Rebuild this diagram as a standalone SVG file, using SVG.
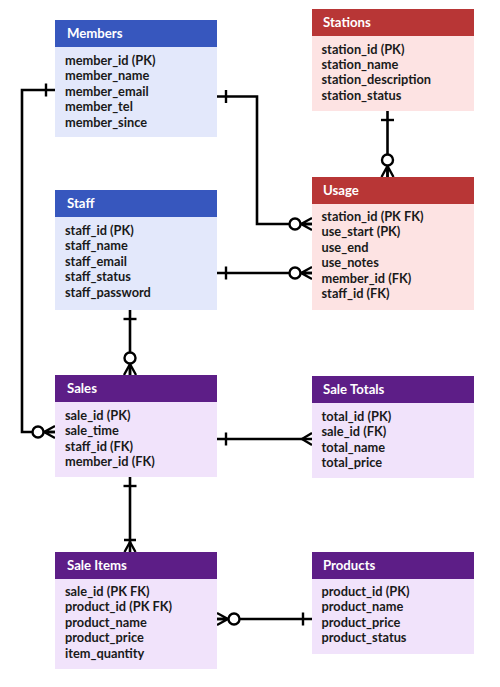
<svg xmlns="http://www.w3.org/2000/svg" width="500" height="687" viewBox="0 0 500 687">
<style>
.hd{font-family:Lato,"Liberation Sans",sans-serif;font-weight:bold;font-size:13.2px;fill:#ffffff}
.tx{font-family:Lato,"Liberation Sans",sans-serif;font-weight:bold;font-size:12.8px;fill:#1a1a1a}
.bh{fill:#3757be}.bb{fill:#e3e8fb}
.rh{fill:#b83636}.rb{fill:#fde3e3}
.ph{fill:#5d1e87}.pb{fill:#f1e3fb}
.cn{fill:none;stroke:#000;stroke-width:2.6}
.mk{fill:none;stroke:#000;stroke-width:2.4}
</style>
<defs>
<marker id="one" markerUnits="userSpaceOnUse" viewBox="-20 -10 22 20" refX="0" refY="0" markerWidth="22" markerHeight="20" orient="auto-start-reverse" overflow="visible">
<line class="mk" x1="-9" y1="-6.5" x2="-9" y2="6.5"/>
</marker>
<marker id="zm" markerUnits="userSpaceOnUse" viewBox="-30 -10 32 20" refX="0" refY="0" markerWidth="32" markerHeight="20" orient="auto-start-reverse" overflow="visible">
<path class="mk" d="M-11,0 L0,-6 M-11,0 L0,0 M-11,0 L0,6"/>
<circle cx="-17" cy="0" r="5.5" fill="#fff" stroke="#000" stroke-width="2.4"/>
</marker>
<marker id="many" markerUnits="userSpaceOnUse" viewBox="-20 -10 22 20" refX="0" refY="0" markerWidth="22" markerHeight="20" orient="auto-start-reverse" overflow="visible">
<path class="mk" d="M-10,0 L0,-6 M-10,0 L0,6"/>
</marker>
<marker id="om" markerUnits="userSpaceOnUse" viewBox="-20 -10 22 20" refX="0" refY="0" markerWidth="22" markerHeight="20" orient="auto-start-reverse" overflow="visible">
<path class="mk" d="M-10,0 L0,-5.5 M-10,0 L0,5.5 M-12,-6 L-12,6"/>
</marker>
</defs>

<g id="connectors">
<path class="cn" d="M55,90 H22 V432 H55" marker-start="url(#one)" marker-end="url(#zm)"/>
<path class="cn" d="M217,96.5 H257 V224 H312" marker-start="url(#one)" marker-end="url(#zm)"/>
<path class="cn" d="M387.5,111 V177" marker-start="url(#one)" marker-end="url(#zm)"/>
<path class="cn" d="M217,273 H312" marker-start="url(#one)" marker-end="url(#zm)"/>
<path class="cn" d="M130,310 V375" marker-start="url(#one)" marker-end="url(#zm)"/>
<path class="cn" d="M217,439 H312" marker-start="url(#one)" marker-end="url(#many)"/>
<path class="cn" d="M130,477 V552" marker-start="url(#one)" marker-end="url(#om)"/>
<path class="cn" d="M312,619 H217" marker-start="url(#one)" marker-end="url(#zm)"/>
</g>

<g id="members">
<rect class="bb" x="55" y="20" width="162" height="117"/>
<rect class="bh" x="55" y="20" width="162" height="27"/>
<text class="hd" x="67" y="38">Members</text>
<text class="tx" x="65" y="65">member_id (PK)</text>
<text class="tx" x="65" y="80.4">member_name</text>
<text class="tx" x="65" y="95.8">member_email</text>
<text class="tx" x="65" y="111.2">member_tel</text>
<text class="tx" x="65" y="126.6">member_since</text>
</g>

<g id="stations">
<rect class="rb" x="312" y="9" width="162" height="102"/>
<rect class="rh" x="312" y="9" width="162" height="27"/>
<text class="hd" x="323" y="27">Stations</text>
<text class="tx" x="321.5" y="53.5">station_id (PK)</text>
<text class="tx" x="321.5" y="68.9">station_name</text>
<text class="tx" x="321.5" y="84.3">station_description</text>
<text class="tx" x="321.5" y="99.7">station_status</text>
</g>

<g id="usage">
<rect class="rb" x="312" y="177" width="162" height="133"/>
<rect class="rh" x="312" y="177" width="162" height="27"/>
<text class="hd" x="323" y="195">Usage</text>
<text class="tx" x="321.5" y="221">station_id (PK FK)</text>
<text class="tx" x="321.5" y="236.4">use_start (PK)</text>
<text class="tx" x="321.5" y="251.8">use_end</text>
<text class="tx" x="321.5" y="267.2">use_notes</text>
<text class="tx" x="321.5" y="282.6">member_id (FK)</text>
<text class="tx" x="321.5" y="298">staff_id (FK)</text>
</g>

<g id="staff">
<rect class="bb" x="55" y="190" width="162" height="120"/>
<rect class="bh" x="55" y="190" width="162" height="27"/>
<text class="hd" x="67" y="208">Staff</text>
<text class="tx" x="65" y="235">staff_id (PK)</text>
<text class="tx" x="65" y="250.4">staff_name</text>
<text class="tx" x="65" y="265.8">staff_email</text>
<text class="tx" x="65" y="281.2">staff_status</text>
<text class="tx" x="65" y="296.6">staff_password</text>
</g>

<g id="sales">
<rect class="pb" x="55" y="375" width="162" height="102"/>
<rect class="ph" x="55" y="375" width="162" height="27"/>
<text class="hd" x="67" y="393">Sales</text>
<text class="tx" x="65" y="420">sale_id (PK)</text>
<text class="tx" x="65" y="435.4">sale_time</text>
<text class="tx" x="65" y="450.8">staff_id (FK)</text>
<text class="tx" x="65" y="466.2">member_id (FK)</text>
</g>

<g id="sale-totals">
<rect class="pb" x="312" y="376" width="162" height="102"/>
<rect class="ph" x="312" y="376" width="162" height="27"/>
<text class="hd" x="323" y="394">Sale Totals</text>
<text class="tx" x="321.5" y="421">total_id (PK)</text>
<text class="tx" x="321.5" y="436.4">sale_id (FK)</text>
<text class="tx" x="321.5" y="451.8">total_name</text>
<text class="tx" x="321.5" y="467.2">total_price</text>
</g>

<g id="sale-items">
<rect class="pb" x="55" y="552" width="162" height="117"/>
<rect class="ph" x="55" y="552" width="162" height="27"/>
<text class="hd" x="67" y="570">Sale Items</text>
<text class="tx" x="65" y="596">sale_id (PK FK)</text>
<text class="tx" x="65" y="611.4">product_id (PK FK)</text>
<text class="tx" x="65" y="626.8">product_name</text>
<text class="tx" x="65" y="642.2">product_price</text>
<text class="tx" x="65" y="657.6">item_quantity</text>
</g>

<g id="products">
<rect class="pb" x="312" y="552" width="162" height="102"/>
<rect class="ph" x="312" y="552" width="162" height="27"/>
<text class="hd" x="323" y="570">Products</text>
<text class="tx" x="321.5" y="596">product_id (PK)</text>
<text class="tx" x="321.5" y="611.4">product_name</text>
<text class="tx" x="321.5" y="626.8">product_price</text>
<text class="tx" x="321.5" y="642.2">product_status</text>
</g>
</svg>
